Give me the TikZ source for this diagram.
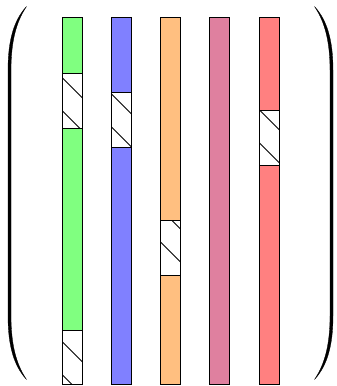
\documentclass[tikz,border=0pt]{standalone}
\begin{document}
\begin{tikzpicture}[x=1pt,y=-1pt]
\useasboundingbox (0,0) rectangle (337,386);
\tikzset{
  outline/.style={draw=black, line width=0.7pt},
  hatch/.style={draw=black, line width=0.95pt},
  paren/.style={fill=black, draw=black, line width=0.3pt}
}
\newcommand\whiteblock[3]{%
  \begin{scope}
    \clip (#1,#2) rectangle (#1+20,#3);
    \fill[white] (#1,#2) rectangle (#1+20,#3);
    \foreach \k in {-14,...,14}
      \draw[hatch] (#1-5,{#1-5+15.5+33*\k}) -- (#1+25,{#1+25+15.5+33*\k});
  \end{scope}
  \draw[outline] (#1,#2) rectangle (#1+20,#3);
}
% bars
\def\ytop{17}
\def\ybot{384.5}
% bar 1 green
\draw[outline, fill=green!50] (62,\ytop) rectangle (82,\ybot);
\whiteblock{62}{73}{128}
\whiteblock{62}{330}{384.5}
% bar 2 blue
\draw[outline, fill=blue!50] (111.25,\ytop) rectangle (131.25,\ybot);
\whiteblock{111.25}{92}{147}
% bar 3 orange
\draw[outline, fill=orange!50] (160.5,\ytop) rectangle (180.5,\ybot);
\whiteblock{160.5}{220}{275}
% bar 4 purple
\draw[outline, fill=purple!50] (209.75,\ytop) rectangle (229.75,\ybot);
% bar 5 red
\draw[outline, fill=red!50] (259,\ytop) rectangle (279,\ybot);
\whiteblock{259}{110}{165}
% parentheses
\newcommand\parenshape{%
  \filldraw[paren] (26.5,6.5) .. controls (14,20) and (8,40) .. (8,70) -- (8,316)
    .. controls (8,346) and (14,366) .. (26.5,379.5)
    .. controls (16,364) and (11,344) .. (11,316) -- (11,70)
    .. controls (11,42) and (16,22) .. (26.5,6.5) -- cycle;
}
\parenshape
\begin{scope}[shift={(341,0)}, xscale=-1]
\parenshape
\end{scope}
\end{tikzpicture}
\end{document}
